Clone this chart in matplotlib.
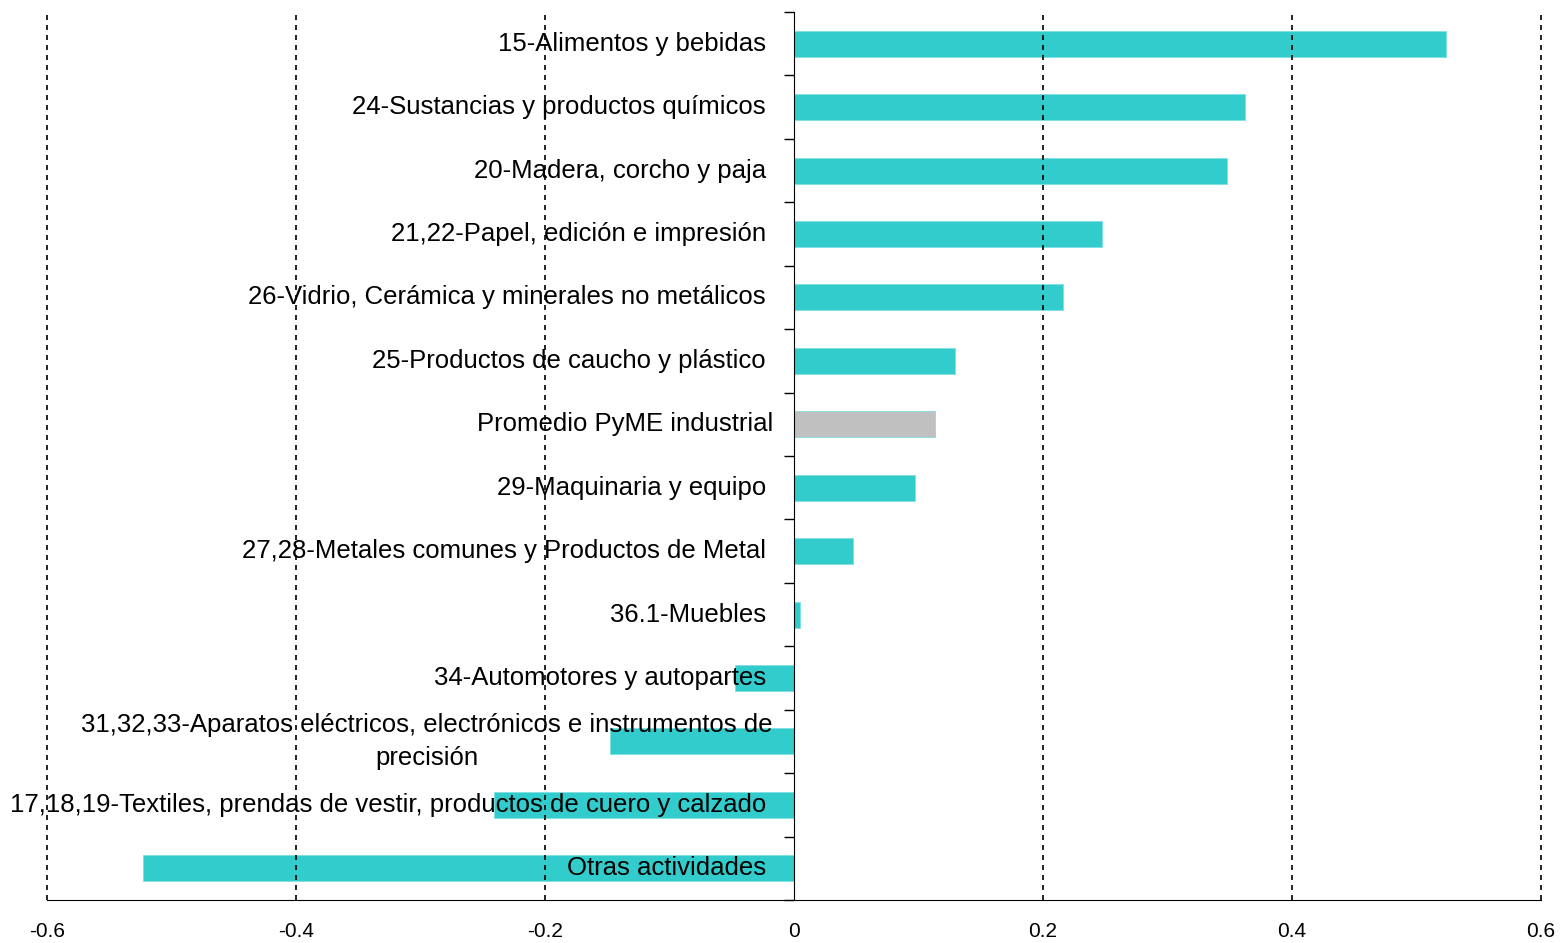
import matplotlib
matplotlib.use("Agg")
import matplotlib.pyplot as plt
import numpy as np

plt.rcParams['font.family'] = ['Liberation Sans', 'DejaVu Sans']

categorias = [
    "15-Alimentos y bebidas",
    "24-Sustancias y productos químicos",
    "20-Madera, corcho y paja",
    "21,22-Papel, edición e impresión",
    "26-Vidrio, Cerámica y minerales no metálicos",
    "25-Productos de caucho y plástico",
    "Promedio PyME industrial",
    "29-Maquinaria y equipo",
    "27,28-Metales comunes y Productos de Metal",
    "36.1-Muebles",
    "34-Automotores y autopartes",
    "31,32,33-Aparatos eléctricos, electrónicos e instrumentos de\nprecisión",
    "17,18,19-Textiles, prendas de vestir, productos de cuero y calzado",
    "Otras actividades",
]
valores = [0.524, 0.362, 0.348, 0.247, 0.216, 0.129, 0.113, 0.097, 0.047, 0.005,
           -0.047, -0.148, -0.241, -0.523]
x_ticks = [-0.6, -0.4, -0.2, 0, 0.2, 0.4, 0.6]
x_labels = ["-0.6", "-0.4", "-0.2", "0", "0.2", "0.4", "0.6"]

fig = plt.figure(figsize=(15.61, 9.43), dpi=100)
ax = fig.add_axes([47/1561, 43/943, 1494/1561, 888/943])

y = np.arange(len(categorias))
colores = ['#C0C0C0' if c.startswith("Promedio") else '#33CCCC' for c in categorias]
ax.barh(y, valores, height=0.41, color=colores, edgecolor='#7fe0e0', linewidth=0.6, zorder=2)

# lineas de grilla punteadas
for xv in x_ticks:
    if xv != 0:
        ax.axvline(xv, color='black', linestyle=(0, (3, 3)), linewidth=1.2, zorder=3, clip_on=False)

ax.set_xlim(-0.6, 0.6)
ax.set_ylim(len(categorias) - 0.5, -0.5)

ax.spines['top'].set_visible(False)
ax.spines['right'].set_visible(False)
ax.spines['left'].set_position(('data', 0))
ax.spines['left'].set_zorder(4)

ax.set_xticks(x_ticks)
ax.set_xticklabels(x_labels, fontsize=15)
ax.tick_params(axis='x', length=0, pad=16)

ax.set_yticks(np.arange(len(categorias) + 1) - 0.5)
ax.set_yticklabels([])
ax.tick_params(axis='y', direction='out', length=7, width=1)

for i, c in enumerate(categorias):
    xpos = -0.017 if (c.startswith("Promedio") or c.startswith("31,")) else -0.0225
    ax.text(xpos, i, c, ha='right', va='center', fontsize=18.5,
            multialignment='center', zorder=5, linespacing=1.5)

fig.savefig("out.png", dpi=100)
